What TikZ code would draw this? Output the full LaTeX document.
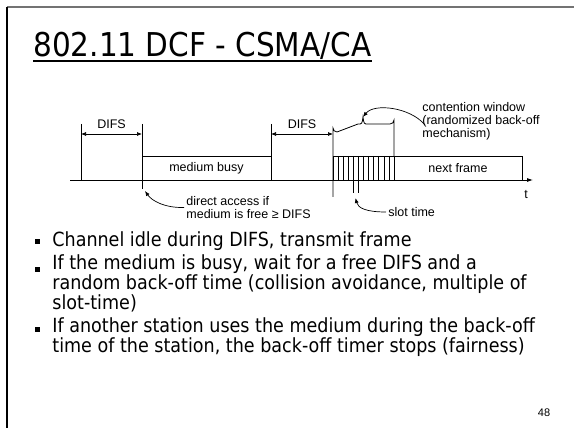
\documentclass[tikz,border=0pt]{standalone}
\usepackage{fontspec}
\setmainfont{DejaVu Sans Condensed}
\newfontfamily\arialf{Liberation Sans}
\usetikzlibrary{arrows.meta}
\begin{document}
\begin{tikzpicture}[x=1pt,y=-1pt, line width=0.8pt,
 lbl/.style={font=\arialf\fontsize{12.5}{12.5}\selectfont, inner sep=0pt},
 bx/.style={draw, line width=0.8pt},
 dimarrow/.style={{Latex[length=5pt,width=4pt]}-{Latex[length=5pt,width=4pt]}, line width=0.7pt},
 callout/.style={-{Latex[length=5pt,width=4pt]}, line width=0.7pt},
 btxt/.style={font=\fontsize{19.5}{17}\selectfont, anchor=base west, inner sep=0pt, align=left},
 bul/.style={fill, minimum size=5pt, inner sep=0pt}]
\useasboundingbox (0,0) rectangle (574,428);
\fill[white] (0,0) rectangle (574,428);
% slide frame
\draw[black!55, line width=2pt] (7,7) -- (574,7);
\draw[line width=1.3pt] (7,7) -- (7,428);
% title
\node[font=\fontsize{32.8}{36}\selectfont, anchor=base west, inner sep=0pt] (title) at (33,57) {802.11 DCF - CSMA/CA};
\draw[line width=1.8pt] ([yshift=-4pt]title.base west) -- ([yshift=-4pt]title.base east);
% coordinates
\coordinate (axL) at (70,180);
\coordinate (axR) at (533,180);
\coordinate (v1t) at (81,124);  \coordinate (v1b) at (81,180);
\coordinate (v2t) at (142,124); \coordinate (v2b) at (142,189);
\coordinate (v3t) at (271,124); \coordinate (v3b) at (271,156);
\coordinate (v4b) at (333,197);
\coordinate (d1a) at (81,134);  \coordinate (d1b) at (142,134);
\coordinate (d2a) at (271,134); \coordinate (d2b) at (333,134);
% axis
\draw[-{Latex[length=6pt,width=4pt]}] (axL) -- (axR);
\node[lbl] (t) at (526,195) {t};
% vertical markers
\draw (v1t) -- (v1b);
\draw (v2t) -- (v2b);
\draw (v3t) -- (v3b);
% boxes
\draw[bx] (142,156) rectangle (271,180);
\node[lbl] (busy) at (206.5,168) {medium busy};
\draw[bx] (333,156) rectangle (394,180);
\draw[bx] (394,156) rectangle (522,180);
\node[lbl] (next) at (458,168) {next frame};
% slot hatching
\foreach \k in {1,...,11} {\draw[line width=0.6pt] ({333+5.083*\k},156) -- ({333+5.083*\k},180);}
\coordinate (s1t) at ({333+5.083*4},180); \coordinate (s1b) at ({333+5.083*4},193);
\coordinate (s2t) at ({333+5.083*5},180); \coordinate (s2b) at ({333+5.083*5},193);
\draw[line width=0.6pt] (s1t) -- (s1b);
\draw[line width=0.6pt] (s2t) -- (s2b);
% contention brace (left arm is the tall marker)
\draw (v4b) -- (333,128) arc[start angle=180, end angle=270, radius=4pt]
  -- (358,124) .. controls (362,124) .. (363,117) .. controls (364,124) .. (368,124)
  -- (390,124) arc[start angle=270, end angle=360, radius=4pt] -- (394,156);
\coordinate (cusp) at (363,117);
% DIFS
\draw[dimarrow] (d1a) -- (d1b);
\node[lbl] (difs1) at (111.5,124) {DIFS};
\draw[dimarrow] (d2a) -- (d2b);
\node[lbl] (difs2) at (302,124) {DIFS};
% callouts
\node[lbl, align=left, anchor=north west] (direct) at (186,196) {direct access if\\[0.5pt]medium is free ≥ DIFS};
\draw[callout] ([xshift=-2pt]direct.west) .. controls (165,208) and (152,201) .. (145,191);
\node[lbl, anchor=west] (slot) at (388,212) {slot time};
\draw[callout] ([xshift=-2pt]slot.west) .. controls (366,212) and (358,208) .. (355.5,198);
\node[lbl, align=left, anchor=north west] (cw) at (422,102) {contention window\\[0.3pt](randomized back-off\\[0.3pt]mechanism)};
\draw[callout] (425,125) .. controls (410,107) and (374,103) .. (cusp);
% bullets (base anchor = baseline of the last line)
\node[bul] (m1) at (37,241) {};
\node[btxt] (b1) at (52,247) {Channel idle during DIFS, transmit frame};
\node[bul] (m2) at (37,269) {};
\node[btxt] (b2) at (52,309) {If the medium is busy, wait for a free DIFS and a\\random back-off time (collision avoidance, multiple of\\slot-time)};
\node[bul] (m3) at (37,329) {};
\node[btxt] (b3) at (52,352) {If another station uses the medium during the back-off\\time of the station, the back-off timer stops (fairness)};
% page number
\node[font=\arialf\fontsize{11}{11}\selectfont, inner sep=0pt] (pg) at (544,413) {48};
\end{tikzpicture}
\end{document}
